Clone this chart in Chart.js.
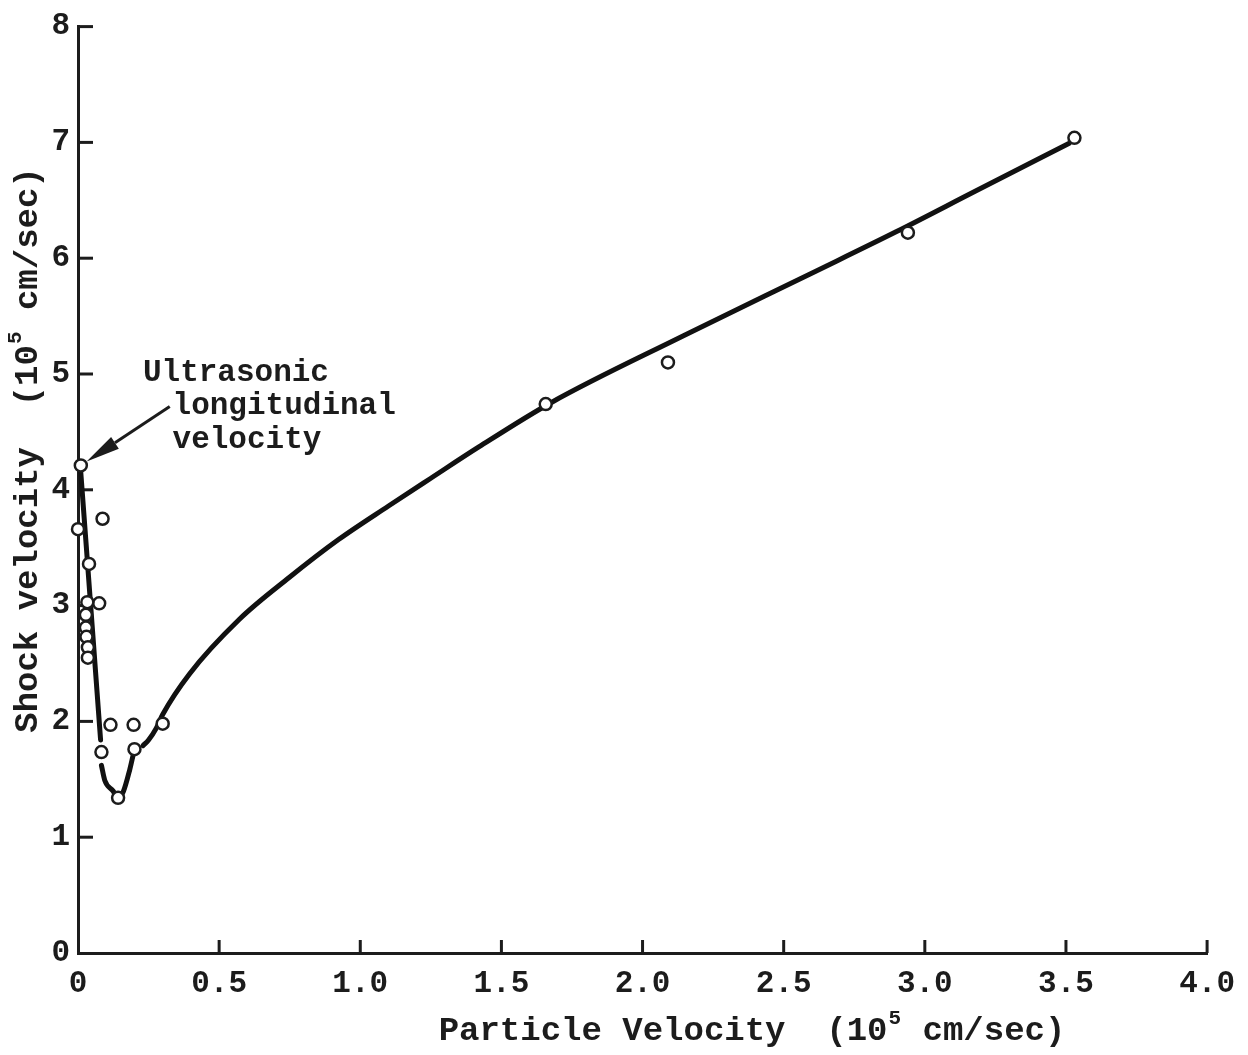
<!DOCTYPE html>
<html>
<head>
<meta charset="utf-8">
<script src="https://cdn.jsdelivr.net/npm/chart.js@4.4.0/dist/chart.umd.min.js"></script>
<style>
html,body{margin:0;padding:0;background:#ffffff;}
canvas{display:block;}
</style>
</head>
<body>
<canvas id="c" width="1248" height="1055"></canvas>
<script>
// ---- data ----
const pointX = [3.53, 2.94, 2.09, 1.657, 0.30, 0.20, 0.197, 0.142, 0.083, 0.115, 0.087, 0.075, 0.01, 0.0, 0.039, 0.033, 0.028, 0.028, 0.030, 0.035, 0.035];
const pointY = [7.04, 6.22, 5.10, 4.74, 1.98, 1.76, 1.97, 1.34, 1.735, 1.97, 3.75, 3.02, 4.21, 3.66, 3.36, 3.03, 2.92, 2.81, 2.73, 2.64, 2.55];

// fitted curve (null = break in the drawn stroke)
const curveX = [0.008, 0.03, 0.05, 0.08, 0.0815, 0.083, 0.095, 0.124, 0.142, 0.16, 0.183, 0.20, 0.215, 0.23, 0.25, 0.277, 0.30, 0.395, 0.571, 0.747, 0.923, 1.10, 1.25, 1.42, 1.674, 2.145, 2.59, 2.90, 3.18, 3.51];
const curveY = [4.21, 3.49, 2.83, 1.84, null, 1.62, 1.49, 1.40, 1.34, 1.39, 1.58, 1.76, null, 1.79, 1.84, 1.94, 2.06, 2.41, 2.88, 3.24, 3.57, 3.86, 4.10, 4.37, 4.75, 5.33, 5.86, 6.23, 6.58, 6.99];

const xTickValues = [0, 0.5, 1.0, 1.5, 2.0, 2.5, 3.0, 3.5, 4.0];
const xTickLabels = ['0', '0.5', '1.0', '1.5', '2.0', '2.5', '3.0', '3.5', '4.0'];
const yTickValues = [0, 1, 2, 3, 4, 5, 6, 7, 8];
const yTickLabels = ['0', '1', '2', '3', '4', '5', '6', '7', '8'];

const xTitleParts = ['Particle Velocity  (10', '5', ' cm/sec)'];
const yTitleParts = ['Shock velocity  (10', '5', ' cm/sec)'];
const noteLines = ['Ultrasonic', 'longitudinal', 'velocity'];

// ---- styling / layout (not data) ----
const INK = '#1c1c1c';
const TICK_FONT = 'bold 31px "Liberation Mono", "DejaVu Sans Mono", monospace';
const TITLE_FONT = 'bold 34px "Liberation Mono", "DejaVu Sans Mono", monospace';
const SUP_FONT = 'bold 21px "Liberation Mono", "DejaVu Sans Mono", monospace';

const note = {
  lineX: [0.23, 0.335, 0.335],   // data units for each text line start
  lineY: [5.01, 4.72, 4.43],     // data units for each text line centre
  arrowFrom: [0.325, 4.72],
  arrowTo: [0.01, 4.21]
};

function drawTitleParts(ctx, parts, cx, cy) {
  ctx.font = TITLE_FONT;
  const w0 = ctx.measureText(parts[0]).width;
  const w2 = ctx.measureText(parts[2]).width;
  ctx.font = SUP_FONT;
  const w1 = ctx.measureText(parts[1]).width + 2;
  const total = w0 + w1 + w2;
  let x = cx - total / 2;
  ctx.textBaseline = 'middle';
  ctx.textAlign = 'left';
  ctx.font = TITLE_FONT;
  ctx.fillText(parts[0], x, cy);
  x += w0;
  ctx.font = SUP_FONT;
  ctx.fillText(parts[1], x + 1, cy - 12);
  x += w1;
  ctx.font = TITLE_FONT;
  ctx.fillText(parts[2], x, cy);
}

const decorPlugin = {
  id: 'decor',
  beforeDatasetsDraw(chart) {
    const ctx = chart.ctx;
    const xs = chart.scales.x, ys = chart.scales.y;
    const a = chart.chartArea;
    ctx.save();
    ctx.strokeStyle = INK;
    ctx.lineWidth = 3;
    ctx.lineCap = 'butt';
    yTickValues.forEach(v => {
      if (v === 0) return;
      const p = ys.getPixelForValue(v);
      ctx.beginPath();
      ctx.moveTo(a.left, p);
      ctx.lineTo(a.left + 15, p);
      ctx.stroke();
    });
    xTickValues.forEach(v => {
      if (v === 0) return;
      const p = xs.getPixelForValue(v);
      ctx.beginPath();
      ctx.moveTo(p, a.bottom);
      ctx.lineTo(p, a.bottom - 13);
      ctx.stroke();
    });
    ctx.restore();
  },
  afterDraw(chart) {
    const ctx = chart.ctx;
    const xs = chart.scales.x, ys = chart.scales.y;
    ctx.save();
    ctx.fillStyle = INK;
    ctx.strokeStyle = INK;
    // axis titles
    drawTitleParts(ctx, xTitleParts, 752, 1031);
    ctx.save();
    ctx.translate(28, 450);
    ctx.rotate(-Math.PI / 2);
    drawTitleParts(ctx, yTitleParts, 0, 0);
    ctx.restore();

    // annotation text
    ctx.font = TICK_FONT;
    ctx.textAlign = 'left';
    ctx.textBaseline = 'middle';
    noteLines.forEach((t, i) => {
      ctx.fillText(t, xs.getPixelForValue(note.lineX[i]), ys.getPixelForValue(note.lineY[i]));
    });
    // arrow
    const x1 = xs.getPixelForValue(note.arrowFrom[0]), y1 = ys.getPixelForValue(note.arrowFrom[1]);
    const xt = xs.getPixelForValue(note.arrowTo[0]), yt = ys.getPixelForValue(note.arrowTo[1]);
    const ang = Math.atan2(yt - y1, xt - x1);
    const tipX = xt - Math.cos(ang) * 7, tipY = yt - Math.sin(ang) * 7;
    const headLen = 34, headW = 7;
    const bx = tipX - Math.cos(ang) * headLen, by = tipY - Math.sin(ang) * headLen;
    ctx.lineWidth = 3;
    ctx.beginPath();
    ctx.moveTo(x1, y1);
    ctx.lineTo(bx, by);
    ctx.stroke();
    ctx.beginPath();
    ctx.moveTo(tipX, tipY);
    ctx.lineTo(bx + Math.sin(ang) * headW, by - Math.cos(ang) * headW);
    ctx.lineTo(bx - Math.sin(ang) * headW, by + Math.cos(ang) * headW);
    ctx.closePath();
    ctx.fill();
    ctx.restore();
  }
};

const curveData = curveX.map((x, i) => ({ x: x, y: curveY[i] }));
const pointData = pointX.map((x, i) => ({ x: x, y: pointY[i] }));

new Chart(document.getElementById('c'), {
  type: 'scatter',
  data: {
    datasets: [
      {
        label: 'Measured',
        data: pointData,
        order: 0,
        pointRadius: 6,
        pointBorderWidth: 2.5,
        pointBorderColor: INK,
        pointBackgroundColor: '#ffffff',
        showLine: false,
        clip: false
      },
      {
        label: 'Fit',
        data: curveData,
        order: 1,
        showLine: true,
        spanGaps: false,
        pointRadius: 0,
        borderColor: '#111111',
        borderWidth: 5,
        borderCapStyle: 'round',
        borderJoinStyle: 'round',
        cubicInterpolationMode: 'monotone',
        clip: false
      }
    ]
  },
  options: {
    responsive: false,
    animation: false,
    events: [],
    layout: { padding: { top: 25, right: 35, left: 0, bottom: 0 } },
    plugins: { legend: { display: false }, tooltip: { enabled: false } },
    scales: {
      x: {
        type: 'linear',
        min: 0, max: 4,
        afterFit: s => { s.height = 102; },
        afterBuildTicks: s => { s.ticks = xTickValues.map(v => ({ value: v })); },
        grid: { display: false, drawTicks: false },
        border: { display: true, color: INK, width: 3 },
        ticks: {
          padding: 13,
          color: INK,
          maxRotation: 0,
          autoSkip: false,
          font: { family: '"Liberation Mono", "DejaVu Sans Mono", monospace', size: 31, weight: 'bold' },
          callback: (v, i) => xTickLabels[i]
        },
        title: { display: false }
      },
      y: {
        type: 'linear',
        min: 0, max: 8,
        afterFit: s => { s.width = 78; },
        afterBuildTicks: s => { s.ticks = yTickValues.map(v => ({ value: v })); },
        grid: { display: false, drawTicks: false },
        border: { display: true, color: INK, width: 3 },
        ticks: {
          padding: 8,
          color: INK,
          autoSkip: false,
          font: { family: '"Liberation Mono", "DejaVu Sans Mono", monospace', size: 31, weight: 'bold' },
          callback: (v, i) => yTickLabels[i]
        },
        title: { display: false }
      }
    }
  },
  plugins: [decorPlugin]
});
</script>
</body>
</html>
